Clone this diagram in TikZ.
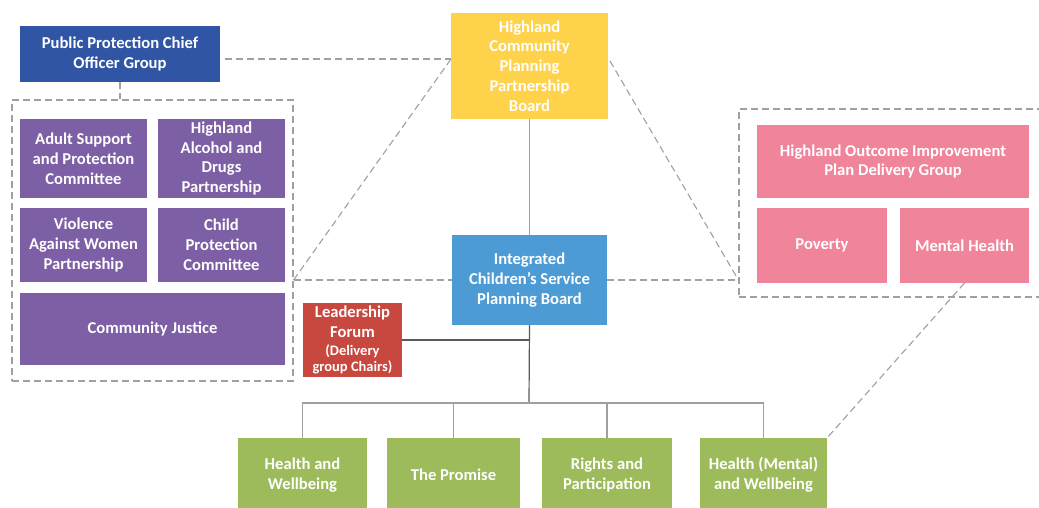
\documentclass[tikz,border=0pt]{standalone}
\usepackage{fontspec}
\setmainfont{Carlito}
\usetikzlibrary{calc}
\definecolor{ppcblue}{HTML}{2F55A4}
\definecolor{yel}{HTML}{FFD24C}
\definecolor{icsblue}{HTML}{4C9BD5}
\definecolor{purp}{HTML}{7D5FA5}
\definecolor{pink}{HTML}{F0849B}
\definecolor{redb}{HTML}{C8473E}
\definecolor{grn}{HTML}{9DBB5A}
\definecolor{dashg}{HTML}{A0A0A0}
\definecolor{lineg}{HTML}{A0A0A0}
\definecolor{darkg}{HTML}{5A5A5A}
\begin{document}
\begin{tikzpicture}[x=1pt,y=-1pt,
  box/.style={rectangle,inner sep=0pt,outer sep=0pt,align=center,text=white,
    font=\bfseries\fontsize{16.6}{19.8}\selectfont},
  dbox/.style={rectangle,draw=dashg,dash pattern=on 7pt off 4pt,line width=1.1pt,inner sep=0pt},
  dline/.style={draw=dashg,dash pattern=on 7pt off 4pt,line width=1.1pt},
  sline/.style={draw=lineg,line width=1.2pt},
  kline/.style={draw=darkg,line width=1.2pt}]
\useasboundingbox (0,0) rectangle (1039,507);
\fill[white] (0,0) rectangle (1039,507);
% dashed group frames
\node[dbox,minimum width=281pt,minimum height=281pt] (lbox) at (152.5,240.5) {};
\node[dbox,minimum width=306pt,minimum height=188pt] (rbox) at (892,203) {};
% boxes
\node[box,fill=ppcblue,minimum width=200pt,minimum height=56pt] (ppc) at (120,54) {Public Protection Chief\\Officer Group};
\node[box,fill=yel,minimum width=157pt,minimum height=106pt] (hcpp) at (529.5,66) {Highland\\Community\\Planning\\Partnership\\Board};
\node[box,fill=purp,minimum width=127pt,minimum height=79pt] (adult) at (83.5,158.5) {Adult Support\\and Protection\\Committee};
\node[box,fill=purp,minimum width=127pt,minimum height=79pt] (hadp) at (221.5,158.5) {Highland\\Alcohol and\\Drugs\\Partnership};
\node[box,fill=purp,minimum width=127pt,minimum height=74pt] (vawp) at (83.5,245) {Violence\\Against Women\\Partnership};
\node[box,fill=purp,minimum width=127pt,minimum height=74pt] (cpc) at (221.5,245) {Child\\Protection\\Committee};
\node[box,fill=purp,minimum width=265pt,minimum height=72pt] (cj) at (152.5,329) {Community Justice};
\node[box,fill=icsblue,minimum width=155pt,minimum height=90pt] (icspb) at (529.5,280) {Integrated\\Children's Service\\Planning Board};
\node[box,fill=pink,minimum width=272pt,minimum height=73pt] (hoip) at (893,161.5) {Highland Outcome Improvement\\Plan Delivery Group};
\node[box,fill=pink,minimum width=130pt,minimum height=75pt] (pov) at (822,245.5) {Poverty};
\node[box,fill=pink,minimum width=129pt,minimum height=75pt] (mh) at (964.5,245.5) {Mental Health};
\node[box,fill=redb,minimum width=99pt,minimum height=74pt] (lf) at (352.5,340) {Leadership\\Forum\\[-2pt]{\fontsize{14.5}{17}\selectfont (Delivery}\\[-3pt]{\fontsize{14.5}{17}\selectfont group Chairs)}};
\node[box,fill=grn,minimum width=129pt,minimum height=74pt] (g1) at (302.5,475) {Health and\\Wellbeing};
\node[box,fill=grn,minimum width=133pt,minimum height=74pt] (g2) at (453.5,475) {The Promise};
\node[box,fill=grn,minimum width=130pt,minimum height=74pt] (g3) at (607,475) {Rights and\\Participation};
\node[box,fill=grn,minimum width=127pt,minimum height=74pt] (g4) at (763.5,475) {Health (Mental)\\and Wellbeing};
% junction coordinates
\coordinate (hj) at (451,59);
\coordinate (hjr) at (610,61);
\coordinate (lj) at (lbox.east |- icspb.west);
\coordinate (rj) at (rbox.west |- icspb.east);
\coordinate (bus) at (529,403);
% dashed connectors
\draw[dline] ([xshift=5pt]ppc.east |- hj) -- (hj);
\draw[dline] (ppc.south) -- (ppc.south |- lbox.north);
\draw[dline] (lj) -- (hj);
\draw[dline] (lj) -- (icspb.west);
\draw[dline] (icspb.east) -- (rj);
\draw[dline] (hjr) -- (rj);
\draw[dline] (mh.south) -- (g4.north east);
% solid connectors
\draw[sline] (hcpp.south) -- (icspb.north);
\draw[kline] (icspb.south) -- (bus);
\draw[kline] (lf.east) -- (icspb.south |- lf.east);
\draw[sline] (g1.north) |- (bus) -| (g4.north);
\draw[sline] (g2.north) -- (g2.north |- bus);
\draw[sline] (g3.north) -- (g3.north |- bus);
\end{tikzpicture}
\end{document}
